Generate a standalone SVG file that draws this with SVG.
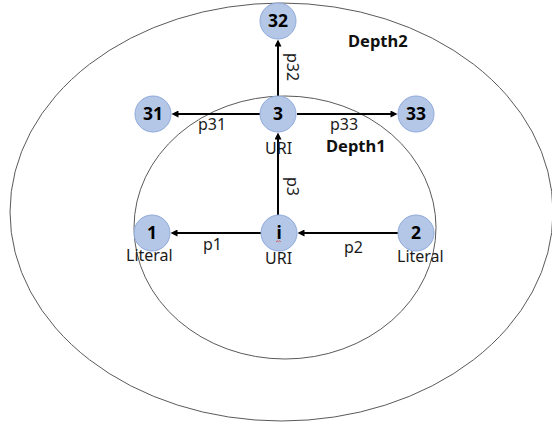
<svg xmlns="http://www.w3.org/2000/svg" width="552" height="423" viewBox="0 0 552 423">
  <defs>
    <style>
      .ring { fill: none; stroke: #5a5a5a; stroke-width: 1; }
      .node circle { fill: #b4c7e7; stroke: #8faadc; stroke-width: 1; }
      .node text { font-family: "Noto Sans", "Open Sans", sans-serif; font-weight: bold; font-size: 17.5px; fill: #000; text-anchor: middle; }
      .edge { stroke: #000; stroke-width: 2; fill: none; marker-end: url(#arrow); }
      .lbl { font-family: "Noto Sans", "Open Sans", sans-serif; font-size: 16px; fill: #1a1a1a; }
      .depth { font-family: "Noto Sans", "Open Sans", sans-serif; font-size: 16.5px; font-weight: bold; fill: #111; }
    </style>
    <marker id="arrow" viewBox="0 0 10 10" refX="5" refY="5" markerWidth="8" markerHeight="7" markerUnits="userSpaceOnUse" orient="auto">
      <path d="M0,0 L10,5 L0,10 z" fill="#000"/>
    </marker>
  </defs>

  <rect width="552" height="423" fill="#fff"/>

  <!-- depth rings -->
  <g id="rings">
    <ellipse class="ring" cx="281.5" cy="212" rx="271.5" ry="209"/>
    <ellipse class="ring" cx="285" cy="227.5" rx="151" ry="131.5"/>
    <text class="depth" x="348" y="47">Depth2</text>
    <text class="depth" x="326" y="152">Depth1</text>
  </g>

  <!-- connectors -->
  <g id="edges">
    <line class="edge" x1="260" y1="114" x2="175" y2="114"/>
    <line class="edge" x1="297" y1="114" x2="394" y2="114"/>
    <line class="edge" x1="278" y1="96" x2="278" y2="43"/>
    <line class="edge" x1="278" y1="215" x2="278" y2="136"/>
    <line class="edge" x1="261" y1="233" x2="174" y2="233"/>
    <line class="edge" x1="398" y1="233" x2="301" y2="233"/>
    <text class="lbl" x="198" y="130">p31</text>
    <text class="lbl" x="330" y="130">p33</text>
    <text class="lbl" transform="translate(287,53) rotate(90)">p32</text>
    <text class="lbl" transform="translate(287,177) rotate(90)">p3</text>
    <text class="lbl" x="203" y="250">p1</text>
    <text class="lbl" x="344" y="253">p2</text>
  </g>

  <!-- nodes -->
  <g id="n32" class="node"><circle cx="278" cy="21" r="18"/><text x="278" y="27">32</text></g>
  <g id="n31" class="node"><circle cx="153" cy="114" r="18"/><text x="153" y="120">31</text></g>
  <g id="n3" class="node"><circle cx="278" cy="114" r="18"/><text x="278" y="120">3</text></g>
  <g id="n33" class="node"><circle cx="416" cy="114" r="18"/><text x="416" y="120">33</text></g>
  <g id="n1" class="node"><circle cx="152" cy="233" r="18"/><text x="152" y="239">1</text></g>
  <g id="ni" class="node"><circle cx="279" cy="233" r="18"/><text x="279" y="239">i</text>
    <path d="M276,241.8 l1.2,-1 l1.2,1 l1.2,-1 l1.2,1" fill="none" stroke="#e03a3a" stroke-width="0.8"/>
  </g>
  <g id="n2" class="node"><circle cx="416" cy="233" r="18"/><text x="416" y="239">2</text></g>

  <!-- node kinds -->
  <g id="kinds">
    <text class="lbl" x="265" y="154">URI</text>
    <text class="lbl" x="265" y="264">URI</text>
    <text class="lbl" x="126" y="261">Literal</text>
    <text class="lbl" x="397" y="262">Literal</text>
  </g>
</svg>
